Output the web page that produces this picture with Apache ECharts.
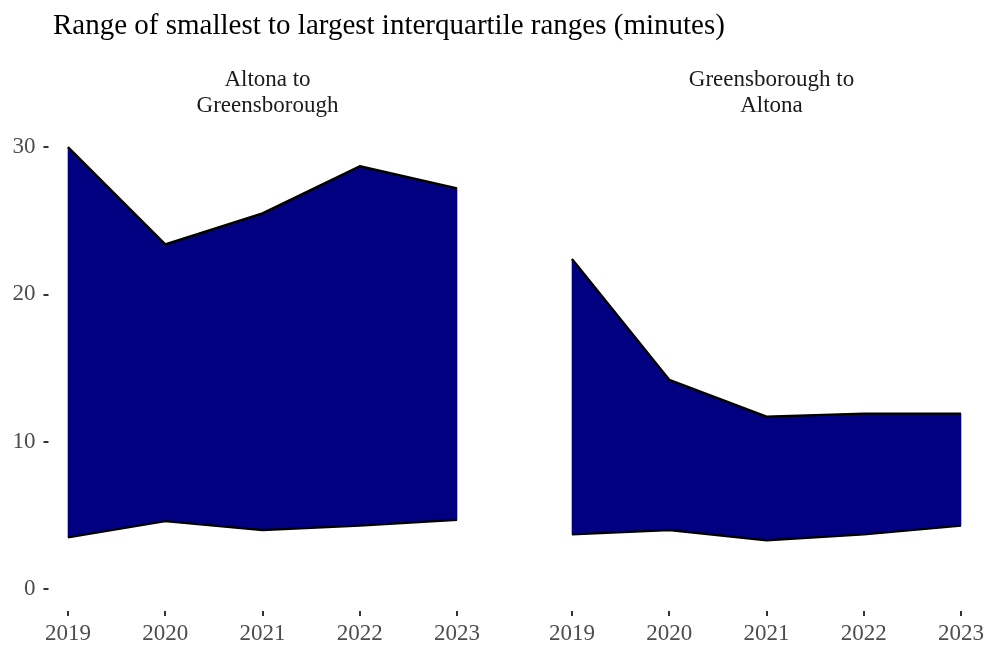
<!DOCTYPE html>
<html>
<head>
<meta charset="utf-8">
<script src="https://cdn.jsdelivr.net/npm/echarts@6/dist/echarts.min.js"></script>
<style>
  html, body { margin: 0; padding: 0; background: #fff; }
  #chart { width: 989px; height: 653px; }
</style>
</head>
<body>
<div id="chart"></div>
<script>
// Years on the x axis
const years = [2019, 2020, 2021, 2022, 2023];
const yTicks = [0, 10, 20, 30];

// Panel names
const panelNames = ['Altona to\nGreensborough', 'Greensborough to\nAltona'];

// Smallest and largest interquartile range per year (minutes)
const altonaToGreensLow  = [3.5, 4.6, 4.0, 4.3, 4.7];
const altonaToGreensHigh = [30.0, 23.4, 25.5, 28.7, 27.2];
const greensToAltonaLow  = [3.7, 4.0, 3.3, 3.7, 4.3];
const greensToAltonaHigh = [22.4, 14.2, 11.7, 11.9, 11.9];

const FONT = '"Liberation Serif", "Times New Roman", serif';
const FILL = '#000080';

const panels = [
  { low: altonaToGreensLow, high: altonaToGreensHigh, left: 48.5 },
  { low: greensToAltonaLow, high: greensToAltonaHigh, left: 552.5 }
];
const panelWidth = 428;
const gridTop = 125;
const gridBottom = 653 - 611;

// Ribbon between the low and high values: filled polygon plus its two edges
function renderRibbon(params, api) {
  if (params.dataIndexInside !== 0) return null;
  const n = params.dataInsideLength;
  const top = [], bottom = [];
  for (let k = 0; k < n; k++) {
    const x = api.value(0, k);
    top.push(api.coord([x, api.value(2, k)]));
    bottom.push(api.coord([x, api.value(1, k)]));
  }
  const polygon = top.concat(bottom.slice().reverse());
  return {
    type: 'group',
    children: [
      { type: 'polygon', shape: { points: polygon }, style: { fill: FILL, stroke: FILL, lineWidth: 0.5 } },
      { type: 'polyline', shape: { points: top }, style: { fill: null, stroke: '#000', lineWidth: 2.4, lineJoin: 'round' } },
      { type: 'polyline', shape: { points: bottom }, style: { fill: null, stroke: '#000', lineWidth: 2.4, lineJoin: 'round' } }
    ]
  };
}

const grids = [], xAxes = [], yAxes = [], series = [], titles = [];

titles.push({
  text: 'Range of smallest to largest interquartile ranges (minutes)',
  left: 48, top: 7,
  textStyle: { fontFamily: FONT, fontSize: 29, fontWeight: 'normal', color: '#000' }
});

panels.forEach((p, i) => {
  grids.push({ left: p.left, width: panelWidth, top: gridTop, bottom: gridBottom });
  titles.push({
    text: panelNames[i],
    left: p.left + panelWidth / 2, top: 62, textAlign: 'center',
    textStyle: { fontFamily: FONT, fontSize: 23, fontWeight: 'normal', color: '#1a1a1a', lineHeight: 26 }
  });
  xAxes.push({
    type: 'value', gridIndex: i, min: 2018.8, max: 2023.2, position: 'bottom',
    axisLine: { show: false, onZero: false },
    splitLine: { show: false },
    axisTick: { show: true, length: 5, customValues: years, lineStyle: { color: '#333', width: 2 } },
    axisLabel: { customValues: years, margin: 11, fontFamily: FONT, fontSize: 23, color: '#4d4d4d',
      formatter: v => String(v) }
  });
  yAxes.push({
    type: 'value', gridIndex: i, min: -1.5, max: 31.5, position: 'left',
    show: i === 0,
    axisLine: { show: false, onZero: false },
    splitLine: { show: false },
    axisTick: { show: true, length: 5, customValues: yTicks, lineStyle: { color: '#333', width: 2 } },
    axisLabel: { customValues: yTicks, margin: 13, fontFamily: FONT, fontSize: 23, color: '#4d4d4d' }
  });
  series.push({
    type: 'custom', xAxisIndex: i, yAxisIndex: i,
    renderItem: renderRibbon,
    encode: { x: 0, y: [1, 2] },
    data: years.map((y, k) => [y, p.low[k], p.high[k]])
  });
});

const chart = echarts.init(document.getElementById('chart'), null, { renderer: 'canvas' });
chart.setOption({
  animation: false,
  backgroundColor: '#fff',
  title: titles,
  grid: grids,
  xAxis: xAxes,
  yAxis: yAxes,
  series: series
});
</script>
</body>
</html>
